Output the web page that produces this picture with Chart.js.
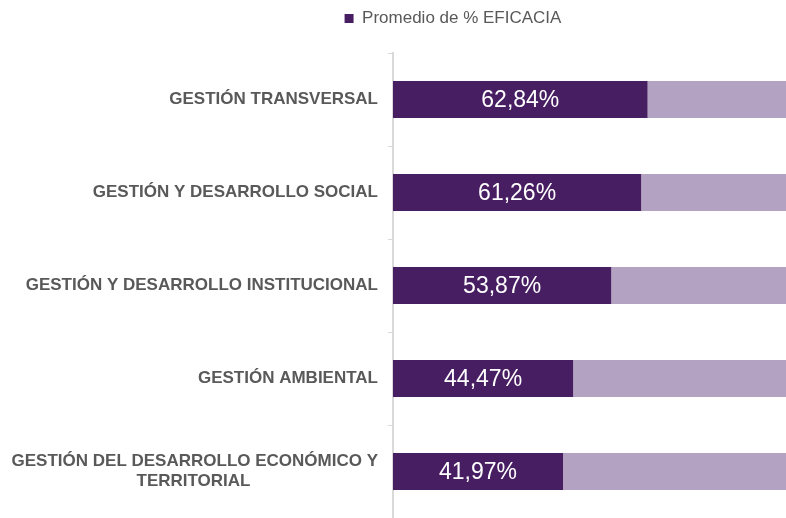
<!DOCTYPE html>
<html>
<head>
<meta charset="utf-8">
<script src="https://cdn.jsdelivr.net/npm/chart.js@4.4.1/dist/chart.umd.min.js"></script>
<style>
  html, body { margin: 0; padding: 0; background: #fff; }
  #wrap { width: 786px; height: 518px; }
</style>
</head>
<body>
<div id="wrap"><canvas id="myChart"></canvas></div>
<script>
const categories = [
    'GESTIÓN TRANSVERSAL',
    'GESTIÓN Y DESARROLLO SOCIAL',
    'GESTIÓN Y DESARROLLO INSTITUCIONAL',
    'GESTIÓN AMBIENTAL',
    ['GESTIÓN DEL DESARROLLO ECONÓMICO Y', 'TERRITORIAL']
];
const eficacia = [62.84, 61.26, 53.87, 44.47, 41.97];
const resto = eficacia.map(v => 100 - v);

const fontFamily = '"Liberation Sans", Arial, sans-serif';
const labelFont = 'bold 17px ' + fontFamily;

// centra la segunda linea de una etiqueta de dos lineas bajo la primera
const measure = document.createElement('canvas').getContext('2d');
measure.font = labelFont;
function centerLines(lbl) {
    if (!Array.isArray(lbl)) return lbl;
    const w0 = measure.measureText(lbl[0]).width;
    const sp = measure.measureText(' ').width;
    return lbl.map(l => {
        const n = Math.round((w0 - measure.measureText(l).width) / 2 / sp);
        return l + ' '.repeat(Math.max(0, n));
    });
}

// leyenda: alto fijo y centrada un poco a la izquierda como en el original
const legendBox = {
    id: 'legendBox',
    afterInit(chart) {
        const lg = chart.legend;
        const fit = lg.fit;
        lg.fit = function() {
            fit.call(this);
            this.height = 53;
        };
    },
    afterLayout(chart) {
        chart.legend.left = 0;
        chart.legend.right = 906;
        chart.legend.width = 906;
    }
};

const valueLabels = {
    id: 'valueLabels',
    afterDatasetsDraw(chart) {
        const ctx = chart.ctx;
        const meta = chart.getDatasetMeta(0);
        ctx.save();
        ctx.fillStyle = '#ffffff';
        ctx.font = '23px ' + fontFamily;
        ctx.textAlign = 'center';
        ctx.textBaseline = 'middle';
        meta.data.forEach((bar, i) => {
            const cx = (bar.x + bar.base) / 2;
            ctx.fillText(eficacia[i].toFixed(2).replace('.', ',') + '%', cx, bar.y + 1);
        });
        ctx.restore();
    }
};

const ctx = document.getElementById('myChart').getContext('2d');
const myChart = new Chart(ctx, {
    type: 'bar',
    data: {
        labels: categories,
        datasets: [{
            label: 'Promedio de % EFICACIA',
            data: eficacia,
            backgroundColor: '#481E62',
            borderWidth: 0,
            barPercentage: 0.4,
            categoryPercentage: 1
        }, {
            label: 'resto',
            data: resto,
            backgroundColor: '#B4A2C2',
            borderWidth: 0,
            barPercentage: 0.4,
            categoryPercentage: 1
        }]
    },
    options: {
        indexAxis: 'y',
        responsive: true,
        maintainAspectRatio: false,
        animation: false,
        layout: { padding: 0 },
        plugins: {
            tooltip: { enabled: false },
            legend: {
                position: 'top',
                labels: {
                    filter: item => item.datasetIndex === 0,
                    boxWidth: 9,
                    boxHeight: 9,
                    color: '#595959',
                    padding: 10,
                    font: { family: fontFamily, size: 17 }
                }
            }
        },
        scales: {
            x: {
                stacked: true,
                display: false,
                min: 0,
                max: 97
            },
            y: {
                stacked: true,
                afterFit(scale) {
                    scale.width = 393;
                    scale.paddingTop = 0;
                    scale.paddingBottom = 0;
                },
                grid: {
                    offset: true,
                    drawOnChartArea: false,
                    tickLength: 5,
                    color: '#d9d9d9'
                },
                border: { color: '#d9d9d9', width: 2 },
                ticks: {
                    padding: 10,
                    color: '#595959',
                    font: { family: fontFamily, size: 17, weight: 'bold' },
                    callback: function(value) {
                        return centerLines(categories[value]);
                    }
                }
            }
        }
    },
    plugins: [legendBox, valueLabels]
});
</script>
</body>
</html>
